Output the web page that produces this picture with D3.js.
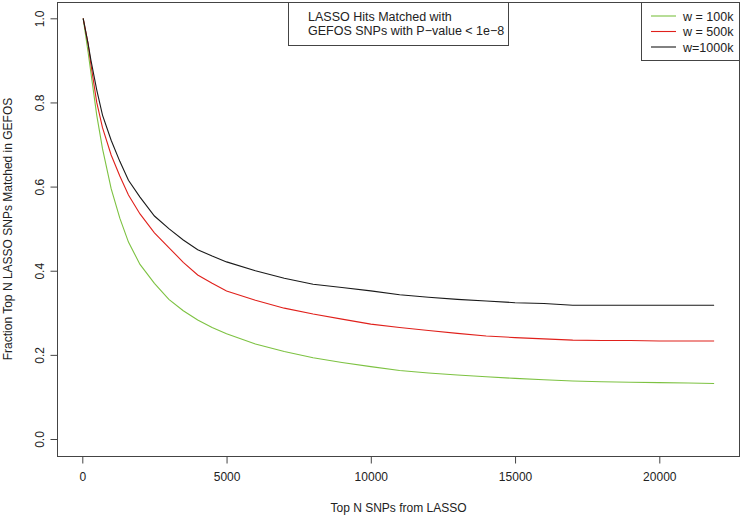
<!DOCTYPE html>
<html>
<head>
<meta charset="utf-8">
<script src="https://cdn.jsdelivr.net/npm/d3@7"></script>
<style>
  body { margin: 0; background: #fff; }
  svg text { font-family: Arial, "Liberation Sans", sans-serif; fill: #222; }
</style>
</head>
<body>
<div id="chart"></div>
<script>
// Top N SNPs from LASSO (shared x values for all three curves)
const topN = [30, 200, 300, 500, 700, 1000, 1300, 1600, 2000, 2500, 3000, 3500, 4000, 4500, 5000,
  6000, 7000, 8000, 9000, 10000, 11000, 12000, 13000, 14000, 15000, 16000, 17000, 18000,
  19000, 20000, 21000, 21900];

// fraction matched in GEFOS, one array per window size
const w100k = [1.0, 0.92, 0.87, 0.77, 0.69, 0.595, 0.525, 0.468, 0.415, 0.37, 0.332, 0.305, 0.283, 0.265, 0.25,
  0.226, 0.208, 0.193, 0.182, 0.172, 0.163, 0.157, 0.152, 0.148, 0.144, 0.141, 0.138, 0.136,
  0.135, 0.134, 0.133, 0.132];
const w500k = [1.0, 0.94, 0.89, 0.80, 0.74, 0.675, 0.625, 0.58, 0.535, 0.49, 0.455, 0.42, 0.39, 0.37, 0.352,
  0.33, 0.311, 0.297, 0.285, 0.273, 0.265, 0.258, 0.251, 0.245, 0.241, 0.238, 0.235, 0.234,
  0.234, 0.233, 0.233, 0.233];
const w1000k = [1.0, 0.94, 0.90, 0.83, 0.77, 0.71, 0.66, 0.615, 0.575, 0.53, 0.50, 0.473, 0.45, 0.435, 0.421,
  0.40, 0.382, 0.368, 0.36, 0.352, 0.343, 0.337, 0.332, 0.328, 0.324, 0.322, 0.318, 0.318,
  0.318, 0.318, 0.318, 0.318];

const seriesNames = ['w = 100k', 'w = 500k', 'w=1000k'];
const seriesColors = ['#7dc242', '#e0201b', '#1a1a1a'];
const xTicks = [0, 5000, 10000, 15000, 20000];
const yTicks = [0, 0.2, 0.4, 0.6, 0.8, 1.0];
const titleLines = ['LASSO Hits Matched with', 'GEFOS SNPs with P\u2212value < 1e\u22128'];

const width = 742, height = 516;
const box = { left: 57, top: 2, right: 740, bottom: 456 };

const svg = d3.select('#chart').append('svg')
  .attr('width', width)
  .attr('height', height);

const x = d3.scaleLinear().domain([0, 20000]).range([82.3, 659.3]);
const y = d3.scaleLinear().domain([0, 1]).range([439, 18.3]);

// plot box
svg.append('rect')
  .attr('x', box.left + 0.5).attr('y', box.top + 0.5)
  .attr('width', box.right - box.left - 1).attr('height', box.bottom - box.top)
  .attr('fill', 'none').attr('stroke', '#444').attr('stroke-width', 1);

// x axis (R style, ticks below the box)
const xAxis = svg.append('g')
  .attr('transform', `translate(0,${box.bottom + 0.5})`)
  .call(d3.axisBottom(x).tickValues(xTicks).tickSize(7).tickPadding(9).tickFormat(d3.format('d')));
xAxis.select('.domain').remove();
xAxis.selectAll('line').attr('stroke', '#444');
xAxis.selectAll('text').attr('font-size', 12).attr('fill', '#222')
  .style('font-family', 'Arial, "Liberation Sans", sans-serif');

// y axis, labels rotated like R's default las=0
const yAxis = svg.append('g')
  .attr('transform', `translate(${box.left + 0.5},0)`)
  .call(d3.axisLeft(y).tickValues(yTicks).tickSize(7).tickFormat(d3.format('.1f')));
yAxis.select('.domain').remove();
yAxis.selectAll('line').attr('stroke', '#444');
yAxis.selectAll('text')
  .attr('font-size', 12).attr('fill', '#222')
  .style('font-family', 'Arial, "Liberation Sans", sans-serif')
  .attr('x', null).attr('dy', null)
  .attr('text-anchor', 'middle')
  .attr('transform', 'translate(-18,0) rotate(-90)')
  .attr('y', 4);

// axis titles
svg.append('text')
  .attr('x', (box.left + box.right) / 2).attr('y', 512)
  .attr('text-anchor', 'middle').attr('font-size', 12)
  .text('Top N SNPs from LASSO');
svg.append('text')
  .attr('transform', `translate(12,${(box.top + box.bottom) / 2}) rotate(-90)`)
  .attr('text-anchor', 'middle').attr('font-size', 12)
  .text('Fraction Top N LASSO SNPs Matched in GEFOS');

// curves
const line = d3.line()
  .x((d, i) => x(topN[i]))
  .y(d => y(d));

[w100k, w500k, w1000k].forEach((vals, k) => {
  svg.append('path')
    .datum(vals)
    .attr('d', line)
    .attr('fill', 'none')
    .attr('stroke', seriesColors[k])
    .attr('stroke-width', 1.1);
});

// title box
const tb = svg.append('g');
tb.append('rect')
  .attr('x', 288.5).attr('y', box.top + 0.5).attr('width', 220).attr('height', 43)
  .attr('fill', '#fff').attr('stroke', '#444');
titleLines.forEach((t, i) => {
  tb.append('text')
    .attr('x', 308).attr('y', 20.5 + i * 14.5)
    .attr('font-size', 12.5)
    .text(t);
});

// legend
const lg = svg.append('g');
lg.append('rect')
  .attr('x', 641.5).attr('y', box.top + 0.5).attr('width', 98).attr('height', 58)
  .attr('fill', '#fff').attr('stroke', '#444');
seriesNames.forEach((name, i) => {
  const yy = 16 + i * 15.5;
  lg.append('line')
    .attr('x1', 651).attr('x2', 676).attr('y1', yy).attr('y2', yy)
    .attr('stroke', seriesColors[i]).attr('stroke-width', 1.1);
  lg.append('text')
    .attr('x', 683).attr('y', yy + 4.5)
    .attr('font-size', 12.5)
    .text(name);
});
</script>
</body>
</html>
